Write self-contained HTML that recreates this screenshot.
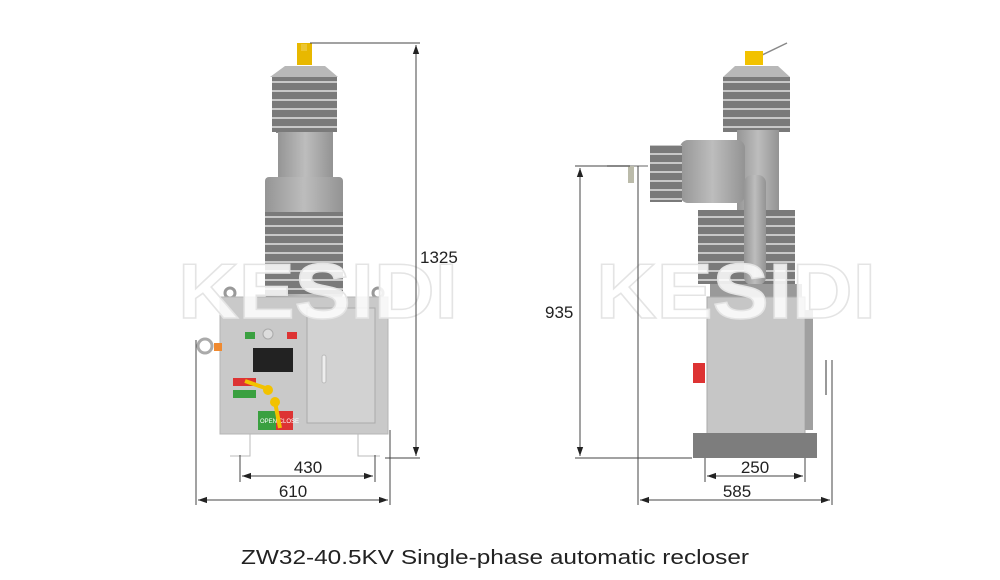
<!DOCTYPE html>
<html><head><meta charset="utf-8"><style>
html,body{margin:0;padding:0;background:#fff;}
svg{display:block;font-family:"Liberation Sans",Arial,sans-serif;}
</style></head><body>
<svg width="1000" height="580" viewBox="0 0 1000 580" xmlns="http://www.w3.org/2000/svg">
<defs>
<marker id="a" viewBox="0 0 10 10" refX="10" refY="5" markerWidth="9" markerHeight="9" orient="auto-start-reverse"><path d="M0,1.5 L10,5 L0,8.5 z" fill="#222"/></marker>
<linearGradient id="g" x1="0" x2="1"><stop offset="0" stop-color="#959595"/><stop offset="0.5" stop-color="#bdbdbd"/><stop offset="1" stop-color="#939393"/></linearGradient>
<pattern id="sh" width="10" height="9" patternUnits="userSpaceOnUse"><rect width="10" height="9" fill="#7a7a7a"/><rect y="0" width="10" height="2" fill="#c8c8c8"/></pattern>
</defs>

<!-- LEFT DEVICE -->
<rect x="297" y="43" width="15" height="22" fill="#e8b800"/>
<rect x="301" y="44" width="6" height="7" fill="#fff3"/>
<path d="M270,77 L285,66 L325,66 L338,77 Z" fill="#b8b8b8"/>
<rect x="276" y="77" width="57" height="56" fill="#888"/>
<rect x="272" y="77" width="65" height="55" fill="url(#sh)"/>
<rect x="278" y="132" width="55" height="46" fill="url(#g)"/>
<rect x="265" y="177" width="78" height="121" rx="4" fill="url(#g)"/>
<rect x="265" y="212" width="78" height="82" fill="url(#sh)"/>
<circle cx="230" cy="293" r="5" fill="none" stroke="#999" stroke-width="3"/>
<circle cx="378" cy="293" r="5" fill="none" stroke="#999" stroke-width="3"/>
<rect x="220" y="297" width="168" height="137" fill="#c9c9c9" stroke="#b5b5b5"/>
<rect x="307" y="308" width="68" height="115" fill="#d2d2d2" stroke="#aaa"/>
<rect x="322" y="355" width="4" height="28" rx="2" fill="#eee" stroke="#bbb"/>
<circle cx="205" cy="346" r="7" fill="none" stroke="#aaa" stroke-width="3"/>
<rect x="214" y="343" width="8" height="8" fill="#f08a30"/>
<rect x="245" y="332" width="10" height="7" fill="#3aa040"/>
<rect x="287" y="332" width="10" height="7" fill="#d33"/>
<circle cx="268" cy="334" r="5" fill="#ddd" stroke="#aaa"/>
<rect x="253" y="348" width="40" height="24" fill="#222"/>
<rect x="233" y="378" width="23" height="8" fill="#d33"/>
<rect x="233" y="390" width="23" height="8" fill="#3aa040"/>
<path d="M245,381 L268,389" stroke="#f2c200" stroke-width="4"/>
<circle cx="268" cy="390" r="5" fill="#f2c200"/>
<rect x="258" y="411" width="18" height="19" fill="#3aa040"/>
<rect x="276" y="411" width="17" height="19" fill="#d33"/>
<text x="260" y="423" font-size="6" fill="#fff">OPEN CLOSE</text>
<path d="M275,402 L280,428" stroke="#f2c200" stroke-width="4"/>
<circle cx="275" cy="402" r="5" fill="#f2c200"/>
<path d="M250,434 V456 H230 M358,434 V456 H380" stroke="#bbb" fill="none"/>

<!-- RIGHT DEVICE -->
<line x1="760" y1="56" x2="787" y2="43" stroke="#888" stroke-width="1.5"/>
<rect x="745" y="51" width="18" height="14" fill="#f2c200"/>
<path d="M723,77 L735,66 L778,66 L790,77 Z" fill="#b8b8b8"/>
<rect x="723" y="77" width="67" height="55" fill="url(#sh)"/>
<rect x="737" y="130" width="42" height="170" fill="url(#g)"/>
<rect x="680" y="140" width="65" height="63" rx="8" fill="url(#g)"/>
<rect x="650" y="145" width="32" height="57" fill="url(#sh)"/>
<line x1="607" y1="166" x2="648" y2="166" stroke="#999" stroke-width="1.5"/>
<rect x="628" y="166" width="6" height="17" fill="#bba"/>
<rect x="698" y="210" width="97" height="74" fill="url(#sh)"/>
<rect x="744" y="175" width="22" height="110" rx="8" fill="url(#g)"/>
<rect x="710" y="284" width="92" height="14" fill="#9a9a9a"/>
<rect x="707" y="297" width="98" height="137" fill="#c6c6c6" stroke="#aaa"/>
<rect x="805" y="310" width="8" height="120" fill="#a0a0a0"/>
<line x1="826" y1="360" x2="826" y2="395" stroke="#999" stroke-width="2"/>
<rect x="693" y="363" width="12" height="20" fill="#d33"/>
<rect x="693" y="433" width="124" height="25" fill="#7d7d7d"/>

<!-- watermarks -->
<g font-size="78" font-weight="bold" fill="#fff" fill-opacity="0.85" stroke="#e4e4e4" stroke-width="1.5">
<text x="178" y="318" textLength="280" lengthAdjust="spacingAndGlyphs">KESIDI</text>
<text x="596" y="318" textLength="280" lengthAdjust="spacingAndGlyphs">KESIDI</text>
</g>

<!-- left dimensions -->
<g stroke="#444" stroke-width="1" fill="none">
<line x1="310" y1="43" x2="420" y2="43"/>
<line x1="385" y1="458" x2="420" y2="458"/>
<line x1="416" y1="45" x2="416" y2="456" marker-start="url(#a)" marker-end="url(#a)"/>
<line x1="196" y1="340" x2="196" y2="505"/>
<line x1="390" y1="430" x2="390" y2="505"/>
<line x1="240" y1="455" x2="240" y2="482"/>
<line x1="375" y1="455" x2="375" y2="482"/>
<line x1="242" y1="476" x2="373" y2="476" marker-start="url(#a)" marker-end="url(#a)"/>
<line x1="198" y1="500" x2="388" y2="500" marker-start="url(#a)" marker-end="url(#a)"/>
<!-- right -->
<line x1="575" y1="166" x2="630" y2="166"/>
<line x1="575" y1="458" x2="692" y2="458"/>
<line x1="580" y1="168" x2="580" y2="456" marker-start="url(#a)" marker-end="url(#a)"/>
<line x1="638" y1="166" x2="638" y2="505"/>
<line x1="832" y1="360" x2="832" y2="505"/>
<line x1="705" y1="458" x2="705" y2="482"/>
<line x1="805" y1="458" x2="805" y2="482"/>
<line x1="707" y1="476" x2="803" y2="476" marker-start="url(#a)" marker-end="url(#a)"/>
<line x1="640" y1="500" x2="830" y2="500" marker-start="url(#a)" marker-end="url(#a)"/>
</g>
<g font-size="17" fill="#222">
<text x="420" y="263">1325</text>
<text x="545" y="318">935</text>
<text x="308" y="473" text-anchor="middle">430</text>
<text x="293" y="497" text-anchor="middle">610</text>
<text x="755" y="473" text-anchor="middle">250</text>
<text x="737" y="497" text-anchor="middle">585</text>
</g>
<text x="241" y="564" font-size="20" fill="#222" textLength="508" lengthAdjust="spacingAndGlyphs">ZW32-40.5KV Single-phase automatic recloser</text>
</svg>
</body></html>
